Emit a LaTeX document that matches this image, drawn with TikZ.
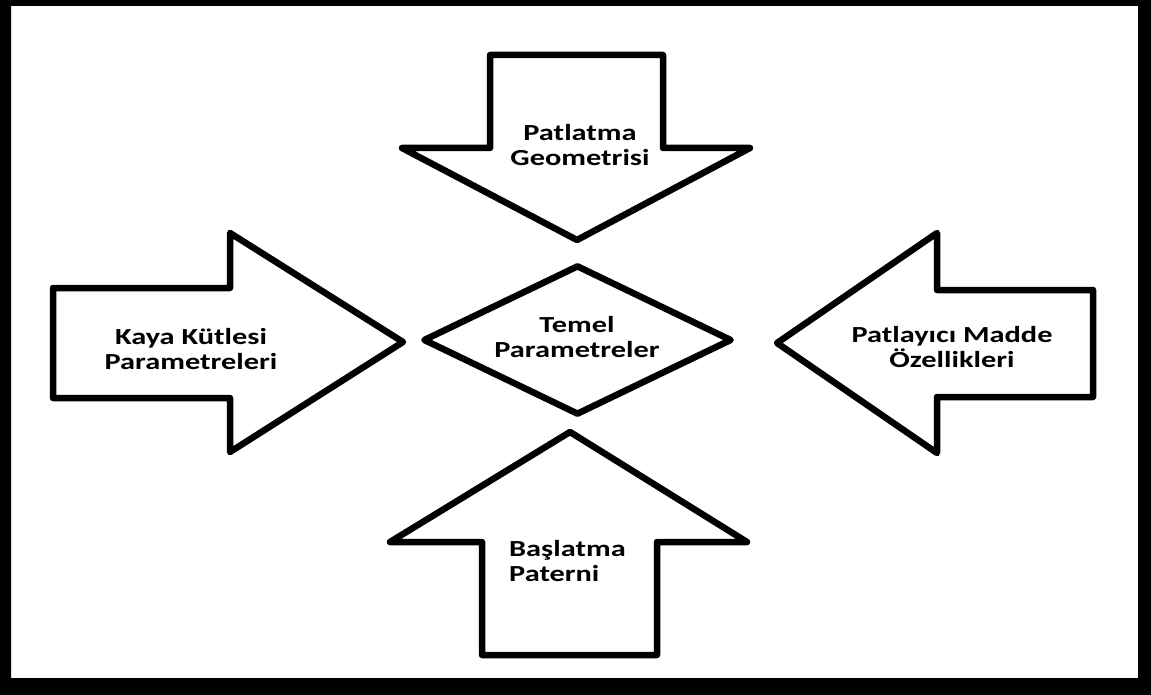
\documentclass[tikz,border=0pt]{standalone}
\usepackage{fontspec}
\setmainfont{Carlito}[FakeStretch=1.32]
\usetikzlibrary{shapes.geometric}

\begin{document}
\begin{tikzpicture}[x=1pt, y=-1pt,
    blockarrow/.style={draw, line width=6.5pt, line join=round, fill=white},
    txt/.style={align=center, inner sep=0pt, font=\bfseries\fontsize{23}{25}\selectfont}
]
\useasboundingbox (0,0) rectangle (1151,695);
\fill[even odd rule] (0,0) rectangle (1151,695) (11,6) rectangle (1138,678);

% four block arrows pointing to the centre
\draw[blockarrow] (490,55) -- (663,55) -- (663,148) -- (750,148) -- (577,240) -- (402,148) -- (490,148) -- cycle;
\draw[blockarrow] (53,288) -- (230,288) -- (230,233) -- (403,342) -- (230,452) -- (230,398) -- (53,398) -- cycle;
\draw[blockarrow] (1093,290) -- (937,290) -- (937,233) -- (777,343) -- (937,453) -- (937,397) -- (1093,397) -- cycle;
\draw[blockarrow] (482,655) -- (482,542) -- (390,542) -- (570,432) -- (747,542) -- (657,542) -- (657,655) -- cycle;

\node[txt] (geo) at (580,145) {Patlatma\\Geometrisi};
\node[txt] (kaya) at (191,349) {Kaya Kütlesi\\Parametreleri};
\node[txt] (patl) at (952,347) {Patlayıcı Madde\\Özellikleri};
\node[txt, align=left, anchor=west] (bas) at (509,561) {Başlatma\\Paterni};

% centre
\node[shape=diamond, draw, line width=6.5pt, line join=round, inner sep=0pt, minimum width=309, minimum height=150] (temel) at (577.5,340) {};
\node[txt] (temeltxt) at (577,337) {Temel\\Parametreler};
\end{tikzpicture}
\end{document}
